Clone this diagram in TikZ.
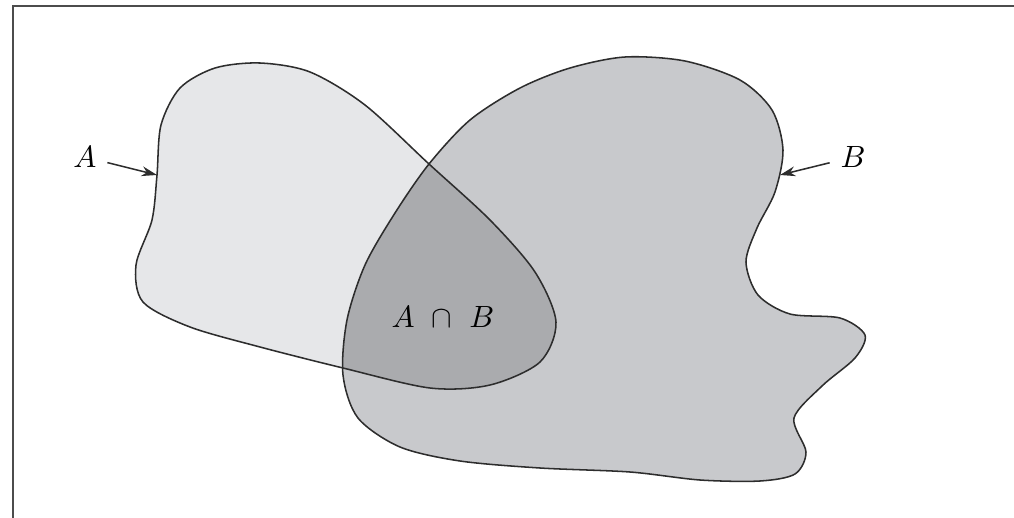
\documentclass[tikz,border=0pt]{standalone}
\usetikzlibrary{arrows.meta}

\definecolor{fillA}{RGB}{230,231,233}
\definecolor{fillB}{RGB}{200,201,204}
\definecolor{fillAB}{RGB}{170,171,174}
\definecolor{edge}{RGB}{45,45,45}

% outlines of the two sets (pixel units, y downwards)
\newcommand\regionA{plot[smooth cycle] coordinates {(157,175) (161,125) (180,88) (215,68) (260,63) (310,72) (365,105) (429,164) (490,220) (535,272) (556,322) (540,362) (490,385) (430,388) (343,368) (260,347) (190,327) (143,302) (136,265) (152,220)}}
\newcommand\regionB{plot[smooth cycle] coordinates {(429,164) (470,120) (520,88) (570,68) (625,57) (685,61) (740,80) (772,110) (783,150) (775,192) (757,228) (746,262) (758,295) (790,314) (840,318) (865,335) (855,358) (822,386) (794,418) (806,452) (795,474) (760,481) (700,480) (630,472) (540,468) (460,461) (400,447) (358,418) (343,375) (347,320) (365,265) (395,213)}}

\tikzset{
  outline/.style={draw=edge,line width=0.5pt},
  pointer/.style={-{Stealth[length=5pt,width=3.2pt]},line width=0.5pt,draw=edge},
  frame/.style={draw=black!70,line width=0.7pt}
}

\begin{document}
\begin{tikzpicture}[x=0.325pt,y=-0.325pt]
    \useasboundingbox (0,0) rectangle (1014,518);

    % 边框
    \draw[frame] (13,518) -- (13,6) -- (1014,6);

    % 集合 A 与 B
    \fill[fillA] \regionA;
    \fill[fillB] \regionB;

    % 交集
    \begin{scope}
        \clip \regionA;
        \fill[fillAB] \regionB;
    \end{scope}

    % 轮廓
    \draw[outline] \regionA;
    \draw[outline] \regionB;

    % 标注
    \node (labA) at (85,157) {$A$};
    \node (labB) at (853,157) {$B$};
    \node (labAB) at (443,317) {$A\ \cap\ B$};
    \coordinate (tipA) at (157,175);
    \coordinate (tipB) at (780,175);
    \draw[pointer] (labA) -- (tipA);
    \draw[pointer] (labB) -- (tipB);
\end{tikzpicture}
\end{document}
